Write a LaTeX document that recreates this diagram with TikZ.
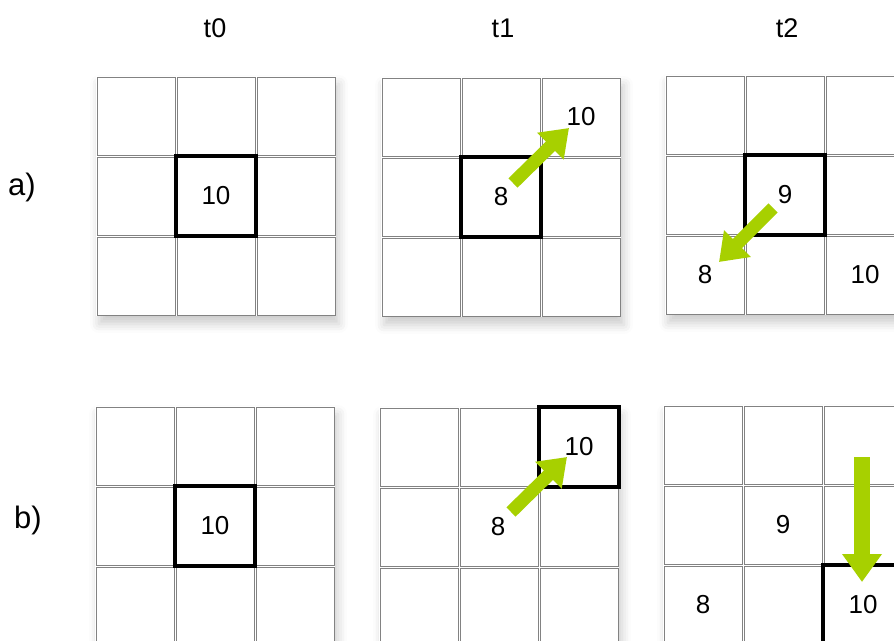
\documentclass[tikz,border=0pt]{standalone}
\usepackage{fontspec}
\setmainfont{Liberation Sans}
\usepackage{xcolor}
\usepackage{tikz}
\usetikzlibrary{arrows.meta,positioning,shadows.blur}

\definecolor{movegreen}{RGB}{167,208,0}
\definecolor{cellgray}{RGB}{130,130,130}

\begin{document}
\begin{tikzpicture}[
    x=1pt, y=-1pt,
    cell/.style={rectangle, minimum size=78pt, inner sep=0pt, draw=cellgray, line width=1pt, fill=white},
    backing/.style={rectangle, minimum size=240pt, inner sep=0pt, fill=white, blur shadow={shadow xshift=3pt, shadow yshift=-8pt, shadow blur radius=9pt, shadow opacity=20}},
    current/.style={rectangle, minimum size=80pt, inner sep=0pt, draw=black, line width=3.2pt},
    val/.style={font=\fontsize{26}{30}\selectfont, inner sep=0pt},
    title/.style={font=\fontsize{27}{31}\selectfont, inner sep=0pt},
    rowlab/.style={font=\fontsize{31}{35}\selectfont, inner sep=0pt},
    move/.style={draw=movegreen, line width=13pt, -{Triangle[length=26pt, width=36pt]}},
    movev/.style={draw=movegreen, line width=16pt, -{Triangle[length=28pt, width=38pt]}}
]
\useasboundingbox (0,0) rectangle (894,640);
\begin{scope}
\clip (0,0) rectangle (894,640);

% grids: name / left / top
\foreach \g/\x/\y in {a0/96/76, a1/381/77, a2/665/75, b0/95/406, b1/379/407, b2/663/405} {
    \node[backing] (\g-bg) at ({\x+120},{\y+120}) {};
    \foreach \r in {1,2,3}
        \foreach \c in {1,2,3}
            \node[cell] (\g-\r\c) at ({\x+80*\c-40},{\y+80*\r-40}) {};
}

% column and row titles
\node[title] (t0) at (215,28) {t0};
\node[title] (t1) at (503,28) {t1};
\node[title] (t2) at (787,28) {t2};
\node[rowlab] (rowa) at (22,187) {a)};
\node[rowlab] (rowb) at (28,520) {b)};

% current cell frames
\node[current] (a0-cur) at (a0-22) {};
\node[current] (a1-cur) at (a1-22) {};
\node[current] (a2-cur) at (a2-22) {};
\node[current] (b0-cur) at (b0-22) {};
\node[current] (b1-cur) at (b1-13) {};
\node[current] (b2-cur) at (b2-33) {};

% values
\node[val] (a0-v22) at (a0-22) {10};
\node[val] (a1-v22) at (a1-22) {8};
\node[val] (a1-v13) at (a1-13) {10};
\node[val] (a2-v22) at (a2-22) {9};
\node[val] (a2-v31) at (a2-31) {8};
\node[val] (a2-v33) at (a2-33) {10};
\node[val] (b0-v22) at (b0-22) {10};
\node[val] (b1-v22) at ([xshift=-1pt]b1-22) {8};
\node[val] (b1-v13) at (b1-13) {10};
\node[val] (b2-v22) at (b2-22) {9};
\node[val] (b2-v31) at (b2-31) {8};
\node[val] (b2-v33) at (b2-33) {10};

% moves
\coordinate (a1-tail) at (513,183);
\coordinate (a1-tip) at (569,128);
\coordinate (a2-tail) at (773,208);
\coordinate (a2-tip) at (719,262);
\coordinate (b1-tail) at (511,512);
\coordinate (b1-tip) at (567,457);
\coordinate (b2-tail) at (862,457);
\coordinate (b2-tip) at (862,582);

\draw[move] (a1-tail) -- (a1-tip);
\draw[move] (a2-tail) -- (a2-tip);
\draw[move] (b1-tail) -- (b1-tip);
\draw[movev] (b2-tail) -- (b2-tip);
\end{scope}
\end{tikzpicture}
\end{document}
